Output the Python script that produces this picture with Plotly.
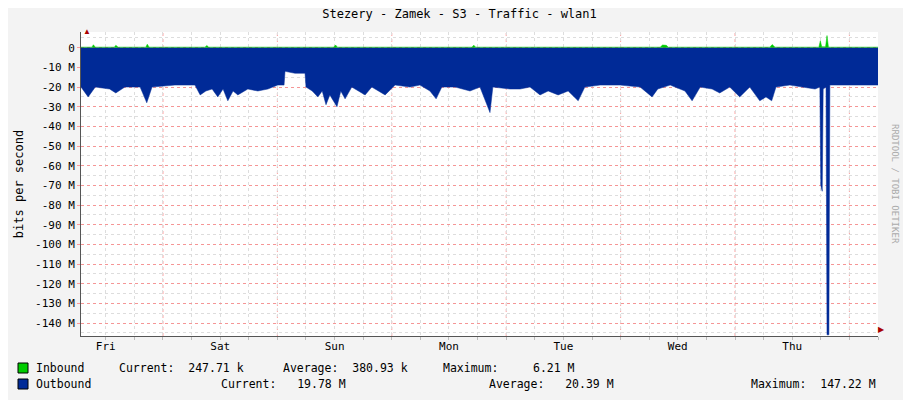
import plotly.graph_objects as go

# ==============================
# Data (hours from graph start, values in bits/s)
# ==============================
OUT_HOURS = [0, 1.5, 3, 6, 7.3, 9.2, 12.4, 13.8, 14.9, 19.7, 23.9, 25, 26.2, 27.5, 28.7, 29.8,
             30.8, 31.9, 32.9, 35, 37.1, 39.2, 41.3, 42.6, 42.8, 44.9, 47, 47.2, 48.5, 49.7,
             50.6, 51.4, 52.2, 53.7, 54.5, 55.4, 56.8, 59.6, 61, 63.8, 65.9, 69, 71.1, 73.2,
             74.5, 75.7, 78.5, 81.6, 83.7, 85.8, 86.4, 90, 92.1, 94.2, 96.3, 98, 100.1, 102.2,
             104.3, 105.7, 108.9, 113.1, 117.3, 119.8, 121, 123.6, 126.7, 128.2, 129.9, 132.4,
             134, 136.1, 138.2, 140.3, 142.4, 143.7, 144.9, 145.8, 148.7, 151.9, 154, 155,
             155.2, 155.5, 155.7, 156.3, 156.5, 156.9, 157.1, 161.3, 167.2]
OUT_MBPS = [-20, -25, -20, -21, -23, -20, -20, -28, -20, -19, -19, -24, -22, -21, -25, -21,
            -27, -22, -24, -21, -22, -21, -19, -19, -12, -13, -13, -20, -22, -25,
            -22, -29, -24, -30, -22, -26, -20, -24, -20, -24, -19, -20, -19, -22,
            -26, -20, -20, -22, -20, -33, -20, -21, -21, -20, -24, -22, -24, -22,
            -27, -20, -19, -19, -20, -25, -21, -19, -22, -27, -20, -21,
            -23, -20, -25, -20, -27, -25, -27, -20, -19, -20, -21, -20,
            -70, -73, -21, -20, -146, -146, -19, -19, -19]

IN_HOURS = [0, 2.3, 2.6, 3, 7, 7.3, 7.8, 13.6, 13.9, 14.3, 26, 26.4, 26.8, 53, 53.4, 53.8,
            82, 82.4, 82.8, 121.5, 122, 122.8, 123.2, 144.5, 145, 145.6, 154.8, 155.1, 155.4,
            156.2, 156.5, 156.8, 157.2, 167.2]
IN_MBPS = [0.3, 0.3, 1.5, 0.3, 0.3, 1.2, 0.3, 0.3, 1.8, 0.3, 0.3, 1.1, 0.3, 0.3, 1.4, 0.3,
           0.3, 1.3, 0.3, 0.3, 1.4, 1.2, 0.3, 0.3, 1.6, 0.3, 0.3, 3.5, 0.5,
           0.5, 6.2, 0.4, 0.3, 0.3]

DAY_LABELS = ["Fri", "Sat", "Sun", "Mon", "Tue", "Wed", "Thu"]
FIRST_NOON = 5.2   # hours from start to Fri 12:00
Y_TICKS = list(range(0, -150, -10))

FONT = "DejaVu Sans Mono"
BLUE = "#002A97"
GREEN = "#00CC00"

fig = go.Figure()
fig.add_trace(go.Scatter(x=IN_HOURS, y=[v * 1e6 for v in IN_MBPS], mode="lines",
                         fill="tozeroy", line=dict(color=GREEN, width=0.5), fillcolor=GREEN))
fig.add_trace(go.Scatter(x=OUT_HOURS, y=[v * 1e6 for v in OUT_MBPS], mode="lines",
                         fill="tozeroy", line=dict(color=BLUE, width=0.5), fillcolor=BLUE))

noons = [FIRST_NOON + 24 * i for i in range(len(DAY_LABELS))]
for i in range(7):
    m = FIRST_NOON + 12 + 24 * i
    fig.add_shape(type="line", x0=m, x1=m, y0=0, y1=1, yref="paper", layer="below",
                  line=dict(color="rgba(255,120,120,0.7)", width=1, dash="dot"))

fig.update_xaxes(range=[0, 167.2], tickvals=noons, ticktext=DAY_LABELS, showgrid=False,
                 ticks="", zeroline=False, showline=True, linecolor="#555", automargin=False,
                 tickfont=dict(family=FONT, size=11, color="#000"),
                 minor=dict(dtick=6, tick0=FIRST_NOON, showgrid=True, gridcolor="#ddd",
                            griddash="dot", ticks="outside", ticklen=3, tickcolor="#bbb"))
fig.update_yaxes(range=[-146.6e6, 8e6], tickvals=[v * 1e6 for v in Y_TICKS],
                 ticktext=["0" if v == 0 else f"{v} M" for v in Y_TICKS],
                 showgrid=True, gridcolor="rgba(255,120,120,0.7)", griddash="dot",
                 zeroline=False, showline=True, linecolor="#555", ticks="outside",
                 ticklen=3, tickcolor="#f99", automargin=False,
                 tickfont=dict(family=FONT, size=11, color="#000"),
                 title=dict(text="bits per second", font=dict(family=FONT, size=12, color="#000"),
                            standoff=8),
                 minor=dict(dtick=5e6, tick0=0, showgrid=True, gridcolor="#ddd", griddash="dot"))

# axis arrows
fig.add_annotation(x=0, y=1, xref="paper", yref="paper", text="▲", showarrow=False,
                   font=dict(size=8, color="#a00"), yanchor="bottom", yshift=-6)
fig.add_annotation(x=1, y=0, xref="paper", yref="paper", text="▶", showarrow=False,
                   font=dict(size=8, color="#a00"), xanchor="left", xshift=-2)

fig.add_annotation(x=1.03, y=0.5, xref="paper", yref="paper", text="RRDTOOL / TOBI OETIKER",
                   textangle=90, showarrow=False, font=dict(family=FONT, size=9, color="#aaa"))

# legend rows (page pixel positions -> paper coords)
def px2x(px):
    return (px - 81) / 797

def py2y(py):
    return (336 - py) / 304

rows = [
    (368, GREEN, [(34, "Inbound"), (117, "Current:  247.71 k"), (281, "Average:  380.93 k"),
                  (441, "Maximum:     6.21 M")]),
    (384, BLUE, [(34, "Outbound"), (219, "Current:   19.78 M"), (487, "Average:   20.39 M"),
                 (749, "Maximum:  147.22 M")]),
]
for py, col, items in rows:
    fig.add_shape(type="rect", xref="paper", yref="paper", x0=px2x(18), x1=px2x(28),
                  y0=py2y(py + 5), y1=py2y(py - 5), fillcolor=col, line=dict(color="#000", width=1))
    for px, txt in items:
        fig.add_annotation(x=px2x(px), y=py2y(py), xref="paper", yref="paper", text=txt,
                           showarrow=False, xanchor="left", yanchor="middle",
                           font=dict(family=FONT, size=11.5, color="#000"))

# page body has an 8px margin, so the figure is 8px smaller on each axis
fig.update_layout(
    width=903, height=392, showlegend=False,
    paper_bgcolor="#f3f3f3", plot_bgcolor="#fff",
    margin=dict(l=73, r=33, t=24, b=64),
    title=dict(text="Stezery - Zamek - S3 - Traffic - wlan1", x=0.5, y=0.985, xanchor="center",
               yanchor="middle", font=dict(family=FONT, size=12, color="#000")),
)
fig.write_html("out.html")
